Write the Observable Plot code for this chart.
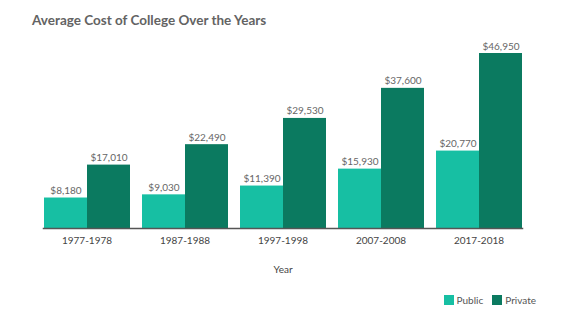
<!DOCTYPE html>
<html>
<head>
<meta charset="utf-8">
<script src="https://cdn.jsdelivr.net/npm/d3@7"></script>
<script src="https://cdn.jsdelivr.net/npm/@observablehq/plot@0.6"></script>
<style>
  html, body { margin: 0; padding: 0; background: #fff; }
  body { width: 573px; height: 322px; overflow: hidden; font-family: Lato, "Noto Sans", sans-serif; }
  #title { box-sizing: border-box; height: 34px; padding: 13px 0 0 32px; font-size: 13.5px; line-height: 14px; font-weight: 700; color: #636363; }
  #legend { display: flex; justify-content: flex-end; align-items: center; gap: 9px; padding-right: 37px; margin-top: 10px; font-size: 10px; color: #555; }
  #legend span.item { display: flex; align-items: center; gap: 3px; }
  #legend span.sw { display: inline-block; width: 10px; height: 10px; }
</style>
</head>
<body>
<div id="title">Average Cost of College Over the Years</div>
<div id="chart"></div>
<div id="legend"></div>
<script>
const years = ["1977-1978", "1987-1988", "1997-1998", "2007-2008", "2017-2018"];
const publicCost = [8180, 9030, 11390, 15930, 20770];
const privateCost = [17010, 22490, 29530, 37600, 46950];
const types = ["Public", "Private"];
const colors = ["#17bfa3", "#0b7a60"];

const data = years.flatMap((y, i) => [
  {year: y, type: "Public", cost: publicCost[i]},
  {year: y, type: "Private", cost: privateCost[i]}
]);

const chart = Plot.plot({
  width: 573,
  height: 250,
  marginTop: 19,
  marginBottom: 56,
  marginLeft: 30,
  marginRight: 38,
  style: {fontFamily: "Lato, 'Noto Sans', sans-serif", fontSize: "10px", color: "#444", background: "white"},
  fx: {domain: years, paddingInner: 0.11, paddingOuter: 0.11, label: "Year", axis: "bottom", tickSize: 0, tickPadding: 8, labelOffset: 44},
  x: {domain: types, axis: null, padding: 0},
  y: {domain: [0, 46950], axis: null},
  color: {domain: types, range: colors},
  marks: [
    Plot.barY(data, {fx: "year", x: "type", y: "cost", fill: "type"}),
    Plot.text(data, {fx: "year", x: "type", y: "cost", text: d => "$" + d3.format(",")(d.cost), lineAnchor: "bottom", dy: -4, fill: "#666", fontSize: 10}),
    Plot.frame({anchor: "bottom", facet: "super", stroke: "#555", strokeWidth: 1.5})
  ]
});
document.getElementById("chart").appendChild(chart);

const legend = document.getElementById("legend");
types.forEach((t, i) => {
  const item = document.createElement("span");
  item.className = "item";
  const sw = document.createElement("span");
  sw.className = "sw";
  sw.style.background = colors[i];
  item.appendChild(sw);
  item.appendChild(document.createTextNode(t));
  legend.appendChild(item);
});
</script>
</body>
</html>
